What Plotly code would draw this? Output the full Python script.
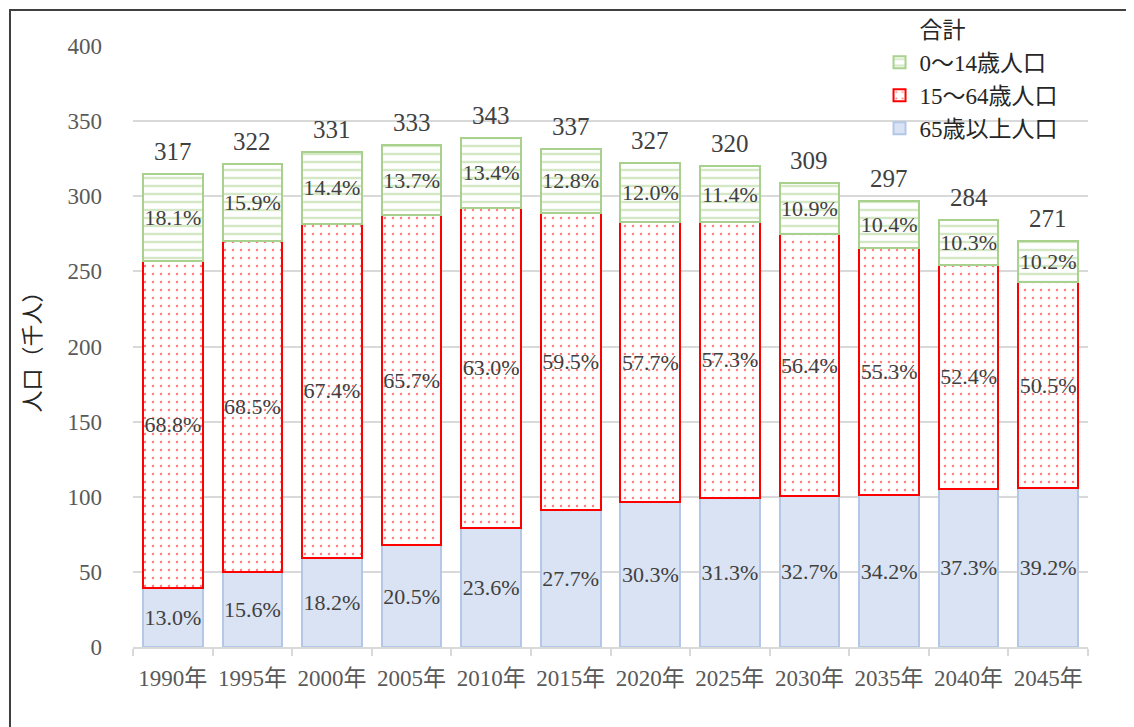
import plotly.graph_objects as go

years = ["1990年", "1995年", "2000年", "2005年", "2010年", "2015年",
         "2020年", "2025年", "2030年", "2035年", "2040年", "2045年"]
pop_65_over = [39.5, 49.6, 59.3, 67.7, 79.5, 91.2, 96.2, 99.5, 100.4, 100.9, 105.2, 105.9]
pop_15_64 = [217.2, 220.4, 222.5, 219.6, 213.0, 197.7, 186.5, 183.2, 174.5, 164.4, 149.3, 136.8]
pop_0_14 = [57.8, 51.8, 47.7, 46.5, 46.0, 42.6, 39.5, 37.5, 34.2, 31.6, 29.7, 27.8]
pct_65_over = ["13.0%", "15.6%", "18.2%", "20.5%", "23.6%", "27.7%",
               "30.3%", "31.3%", "32.7%", "34.2%", "37.3%", "39.2%"]
pct_15_64 = ["68.8%", "68.5%", "67.4%", "65.7%", "63.0%", "59.5%",
             "57.7%", "57.3%", "56.4%", "55.3%", "52.4%", "50.5%"]
pct_0_14 = ["18.1%", "15.9%", "14.4%", "13.7%", "13.4%", "12.8%",
            "12.0%", "11.4%", "10.9%", "10.4%", "10.3%", "10.2%"]
totals = [317, 322, 331, 333, 343, 337, 327, 320, 309, 297, 284, 271]

SERIF = "'Liberation Serif', 'Noto Sans CJK JP', serif"
TXT = "#404040"
pct_font = dict(family=SERIF, size=22, color=TXT)

fig = go.Figure()
fig.add_trace(go.Bar(
    x=years, y=pop_65_over, name="65歳以上人口",
    marker=dict(color="#DAE3F3", line=dict(color="#B4C7E7", width=2)),
    text=pct_65_over, textposition="inside", insidetextanchor="middle",
    textangle=0, constraintext="none", textfont=pct_font,
))
fig.add_trace(go.Bar(
    x=years, y=pop_15_64, name="15〜64歳人口",
    marker=dict(color="white", line=dict(color="#FF0000", width=2),
                pattern=dict(shape=".", fgcolor="#FF0000", bgcolor="white",
                             size=8, solidity=0.08)),
    text=pct_15_64, textposition="inside", insidetextanchor="middle",
    textangle=0, constraintext="none", textfont=pct_font,
))
fig.add_trace(go.Bar(
    x=years, y=pop_0_14, name="0〜14歳人口",
    marker=dict(color="white", line=dict(color="#A9D18E", width=2),
                pattern=dict(shape="-", fgcolor="#A9D18E", bgcolor="white",
                             size=8, solidity=0.3)),
    text=pct_0_14, textposition="inside", insidetextanchor="middle",
    textangle=0, constraintext="none", textfont=pct_font,
))
fig.add_trace(go.Scatter(
    x=[None], y=[None], mode="lines", name="合計",
    line=dict(width=0, color="rgba(0,0,0,0)"),
))

tops = [a + b + c for a, b, c in zip(pop_65_over, pop_15_64, pop_0_14)]
for x, top, t in zip(years, tops, totals):
    fig.add_annotation(x=x, y=top, text=str(t), showarrow=False,
                       yanchor="bottom", yshift=7,
                       font=dict(family=SERIF, size=25, color=TXT))

# chart frame (outer border)
fig.add_shape(type="rect", xref="paper", yref="paper",
              x0=-0.1288, x1=1.06, y0=-0.15, y1=1.0599,
              line=dict(color="#404040", width=2), fillcolor="rgba(0,0,0,0)",
              layer="above")
# white backing of the legend over the top gridline
fig.add_shape(type="rect", xref="paper", yref="paper",
              x0=0.80, x1=1.01, y0=0.985, y1=1.01,
              line=dict(width=0), fillcolor="white", layer="between")

fig.update_layout(
    width=1126, height=719,
    margin=dict(l=125, r=46, t=38, b=80, autoexpand=False),
    barmode="stack", bargap=0.25,
    plot_bgcolor="white", paper_bgcolor="white",
    font=dict(family=SERIF, color="#595959"),
    showlegend=True,
    legend=dict(
        traceorder="reversed", xref="container", yref="container",
        x=0.774, y=1.0, xanchor="left", yanchor="top",
        bgcolor="rgba(0,0,0,0)", font=dict(family=SERIF, size=23, color="#262626"),
        tracegroupgap=0, itemwidth=30,
    ),
    xaxis=dict(
        showgrid=False, showline=True, linecolor="#D9D9D9", linewidth=1.5,
        ticks="outside", tickson="boundaries", ticklen=7, tickcolor="#D9D9D9",
        tickwidth=1.5, tickfont=dict(family=SERIF, size=23, color="#595959"),
        ticklabelstandoff=10, tickangle=0, automargin=False,
    ),
    yaxis=dict(
        range=[0, 400], dtick=50, showgrid=True, gridcolor="#D9D9D9",
        gridwidth=1.5, zeroline=False, showline=False,
        tickfont=dict(family=SERIF, size=23, color="#595959"),
        ticklabelstandoff=30, automargin=False,
        title=dict(text="人口（千人）", standoff=20,
                   font=dict(family="'Noto Sans CJK JP', sans-serif", size=22,
                             color="#262626")),
    ),
)

fig.write_html("out.html")
